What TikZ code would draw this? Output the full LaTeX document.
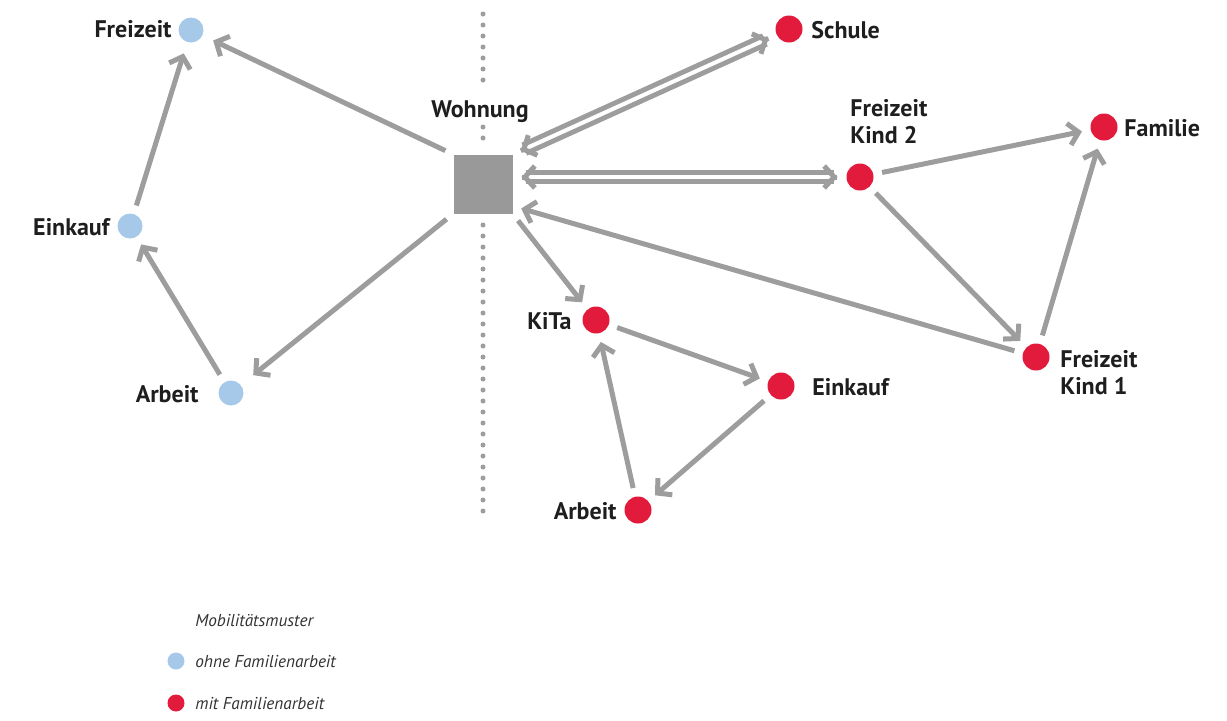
\documentclass[tikz,border=0pt]{standalone}
\usepackage{fontspec}
\setmainfont{PT Sans}
\usetikzlibrary{arrows.meta,calc}
\definecolor{lgray}{RGB}{157,157,157}
\definecolor{sqgray}{RGB}{153,153,153}
\definecolor{bluedot}{RGB}{166,201,234}
\definecolor{reddot}{RGB}{226,26,60}
\definecolor{txt}{RGB}{30,30,30}
\definecolor{legtxt}{RGB}{50,50,50}
\begin{document}
\begin{tikzpicture}[x=0.5pt,y=-0.5pt,
 bdot/.style={circle,fill=bluedot,minimum size=12.5pt,inner sep=0pt,outer sep=0pt},
 rdot/.style={circle,fill=reddot,minimum size=13.5pt,inner sep=0pt,outer sep=0pt},
 house/.style={fill=sqgray,minimum size=29.5pt,inner sep=0pt,outer sep=0pt},
 lbl/.style={font=\bfseries\fontsize{12}{13.5}\selectfont,text=txt,inner sep=0pt,align=left},
 legtext/.style={font=\itshape\fontsize{8.6}{10}\selectfont,text=legtxt,inner sep=0pt},
 barb/.style={-{Straight Barb[length=5pt,width=11pt]}},
 conn/.style={draw=lgray,line width=2.5pt,barb,shorten >=4.5pt,shorten <=4.5pt},
 dconn/.style={draw=lgray,line width=2.5pt,double=white,double distance=2pt,shorten >=6.5pt,shorten <=6.5pt},
 dtip/.style={draw=lgray,line width=2.5pt,barb},
 divider/.style={draw=lgray,line width=2.5pt,line cap=round,dash pattern=on 0pt off 5.5pt}
]
\useasboundingbox (0,0) rectangle (1227,720);

% divider
\draw[divider] (483,14) -- (483,90);
\draw[divider] (483,127) -- (483,148);
\draw[divider] (483,225) -- (483,520);

% nodes
\node[bdot] (fzb) at (191,30) {};
\node[bdot] (ekb) at (130,226) {};
\node[bdot] (arb) at (231,393) {};
\node[house] (w) at (483,184) {};
\node[rdot] (sch) at (789,29) {};
\node[rdot] (fk2) at (860,177) {};
\node[rdot] (fam) at (1104,127) {};
\node[rdot] (fk1) at (1036,357) {};
\node[rdot] (kita) at (596,320) {};
\node[rdot] (ekr) at (781,386) {};
\node[rdot] (arr) at (638,510) {};

% labels
\node[lbl,anchor=base east] (lfzb) at (172,37) {Freizeit};
\node[lbl,anchor=base east] (lekb) at (110,235) {Einkauf};
\node[lbl,anchor=base east] (larb) at (199,402) {Arbeit};
\node[lbl,anchor=base] (lw) at (480,117) {Wohnung};
\node[lbl,anchor=base west] (lsch) at (811,38) {Schule};
\node[lbl,anchor=north west] (lfk2) at (850,99) {Freizeit\\Kind 2};
\node[lbl,anchor=base west] (lfam) at (1124,136) {Familie};
\node[lbl,anchor=north west] (lfk1) at (1060,350) {Freizeit\\Kind 1};
\node[lbl,anchor=base east] (lkita) at (572,329) {KiTa};
\node[lbl,anchor=base west] (lekr) at (812,395) {Einkauf};
\node[lbl,anchor=base east] (larr) at (617,519) {Arbeit};

% connectors, left part
\draw[conn,shorten >=6pt] (w.north west) -- (fzb);
\draw[conn,shorten >=6pt] (ekb) -- (fzb);
\draw[conn] (arb) -- (ekb);
\draw[conn,shorten >=8pt] (w.south west) -- (arb);

% double connectors (two-way), with solid chevrons at both ends
\draw[dconn] (w.north east) -- (sch);
\coordinate (s1) at ($(w.north east)!4.5pt!(sch)$);
\coordinate (s2) at ($(sch)!11.25pt!(w.north east)$);
\draw[dtip] ($(s1)!0.1pt!(s2)$) -- (s1);
\draw[dtip] ($(s2)!0.1pt!(s1)$) -- (s2);

\coordinate (wf) at (w.east |- fk2);
\draw[dconn] (wf) -- (fk2);
\coordinate (f1) at ($(wf)!4.5pt!(fk2)$);
\coordinate (f2) at ($(fk2)!11.25pt!(wf)$);
\draw[dtip] ($(f1)!0.1pt!(f2)$) -- (f1);
\draw[dtip] ($(f2)!0.1pt!(f1)$) -- (f2);

% connectors, right part
\draw[conn] (w.south east) -- (kita);
\draw[conn] (fk1) -- ($(w.east)+(0,22)$);
\draw[conn] (fk2) -- (fam);
\draw[conn] (fk2) -- (fk1);
\draw[conn] (fk1) -- (fam);
\draw[conn] (kita) -- (ekr);
\draw[conn] (ekr) -- (arr);
\draw[conn] (arr) -- (kita);

% legend
\node[legtext,anchor=west] (lgt) at (195,620) {Mobilitätsmuster};
\node[circle,fill=bluedot,minimum size=8.5pt,inner sep=0pt] (lgb) at (176,661) {};
\node[legtext,anchor=west] (lgbt) at (195,661) {ohne Familienarbeit};
\node[circle,fill=reddot,minimum size=8.5pt,inner sep=0pt] (lgr) at (176,703) {};
\node[legtext,anchor=west] (lgrt) at (195,703) {mit Familienarbeit};
\end{tikzpicture}
\end{document}
